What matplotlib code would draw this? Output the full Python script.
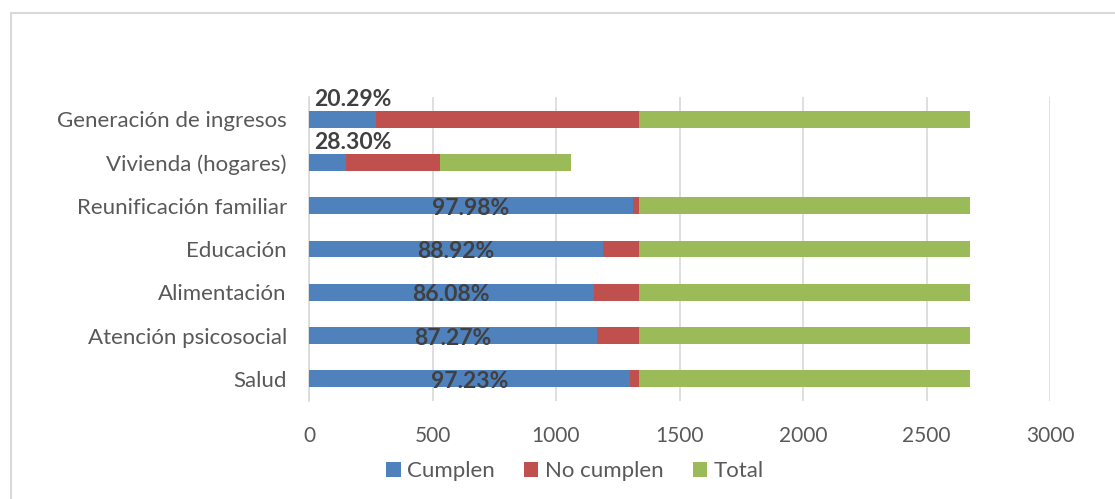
import numpy as np
import matplotlib.pyplot as plt
from matplotlib.patches import Rectangle

plt.rcParams['font.family'] = ['Lato', 'DejaVu Sans']

categorias = ['Salud', 'Atención psicosocial', 'Alimentación', 'Educación',
              'Reunificación familiar', 'Vivienda (hogares)', 'Generación de ingresos']
total = [1338, 1338, 1338, 1338, 1338, 531, 1338]
cumplen = [1301, 1168, 1152, 1190, 1311, 150, 271]
no_cumplen = [t - c for t, c in zip(total, cumplen)]
etiquetas = ['97.23%', '87.27%', '86.08%', '88.92%', '97.98%', '28.30%', '20.29%']

azul = '#4f81bd'
rojo = '#c0504d'
verde = '#9bbb59'
gris_texto = '#595959'

fig = plt.figure(figsize=(11.15, 4.99), dpi=100)
ax = fig.add_axes([309 / 1115, 1 - 400.5 / 499, (1050 - 309) / 1115, (400.5 - 97.5) / 499])

y = np.arange(len(categorias))
alto = 0.39
ax.barh(y, cumplen, height=alto, color=azul, label='Cumplen', zorder=3)
ax.barh(y, no_cumplen, left=cumplen, height=alto, color=rojo, label='No cumplen', zorder=3)
izq_total = [c + n for c, n in zip(cumplen, no_cumplen)]
ax.barh(y, total, left=izq_total, height=alto, color=verde, label='Total', zorder=3)

for i, (c, txt) in enumerate(zip(cumplen, etiquetas)):
    if c < 400:
        # etiqueta encima de la barra
        ax.text(20, i + 0.45, txt, ha='left', va='center', fontsize=16.5,
                fontweight='bold', color='#404040', zorder=4)
    else:
        ax.text(c / 2, i - 0.06, txt, ha='center', va='center', fontsize=16.5,
                fontweight='bold', color='#404040', zorder=4)

ax.set_xlim(0, 3000)
ax.set_ylim(-0.5, len(categorias) - 0.5)
ax.set_xticks(np.arange(0, 3001, 500))
ax.set_yticks(y)
ax.set_yticklabels(categorias, fontsize=16)
ax.xaxis.grid(True, color='#d9d9d9', linewidth=1.2, zorder=0)
ax.set_axisbelow(True)
for s in ['top', 'right', 'bottom']:
    ax.spines[s].set_visible(False)
ax.spines['left'].set_color('#d9d9d9')
ax.spines['left'].set_linewidth(1.2)
ax.tick_params(axis='both', length=0, colors=gris_texto)
ax.tick_params(axis='x', pad=18, labelsize=15)
ax.tick_params(axis='y', pad=16)

ax.legend(loc='upper center', bbox_to_anchor=(0.5 - 0.141, -0.135), ncol=3, frameon=False,
          fontsize=16, labelcolor=gris_texto, handlelength=0.65, handleheight=0.65,
          handletextpad=0.3, columnspacing=1.3)

fig.patches.append(Rectangle((11 / 1115, -0.1), 1.2, 1 - 13 / 499 + 0.1,
                             transform=fig.transFigure, fill=False,
                             edgecolor='#d9d9d9', linewidth=1.5))

fig.savefig('out.png', dpi=100)
